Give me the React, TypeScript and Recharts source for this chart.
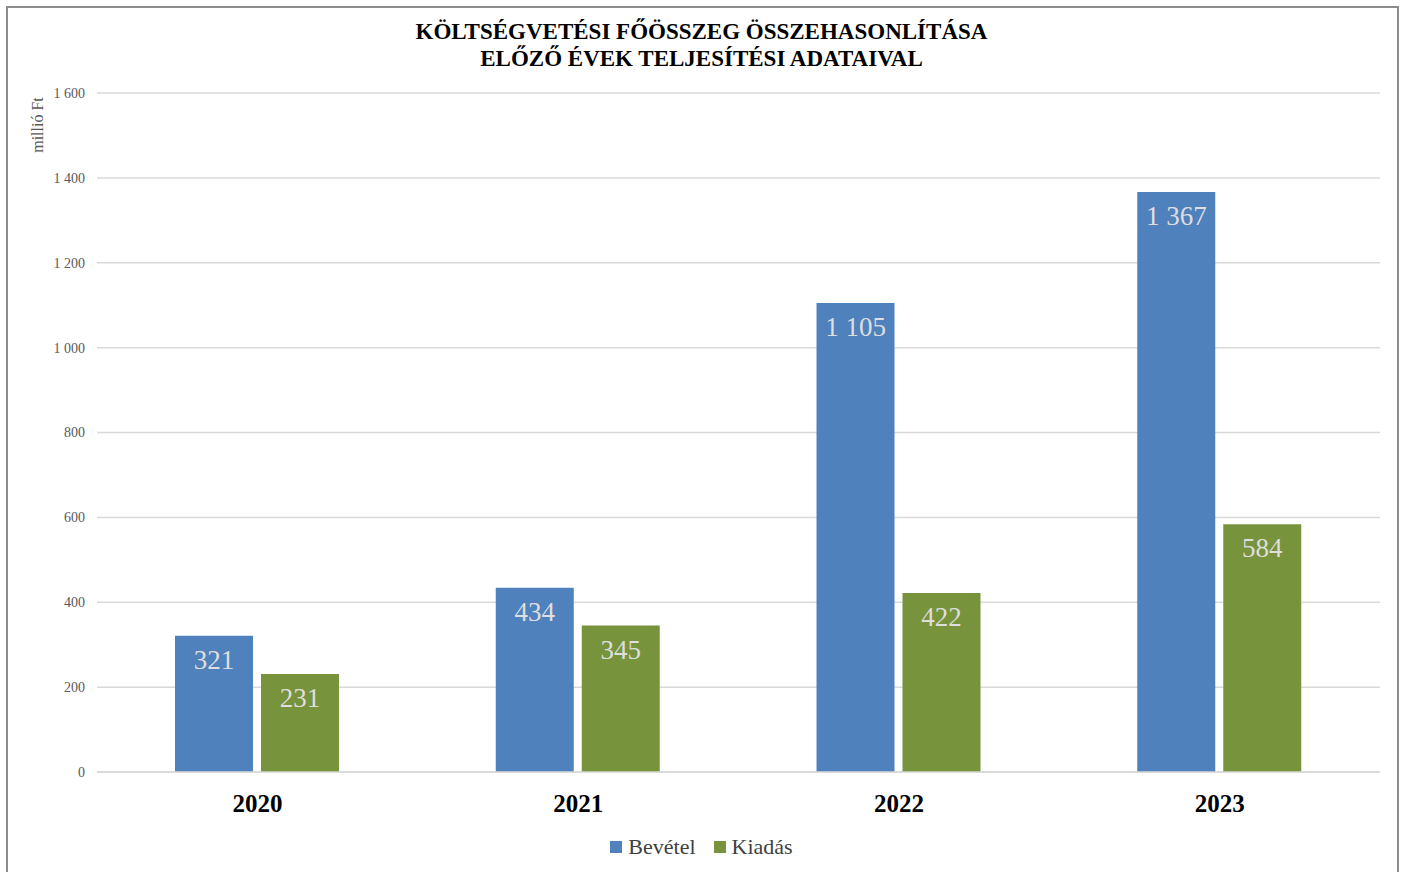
import { BarChart, Bar, XAxis, YAxis, CartesianGrid, LabelList } from 'recharts'

const years = ['2020', '2021', '2022', '2023']
const bevetel = [321, 434, 1105, 1367]
const kiadas = [231, 345, 422, 584]
const yTicks = [0, 200, 400, 600, 800, 1000, 1200, 1400, 1600]

const data = years.map((year, i) => ({ year, bevetel: bevetel[i], kiadas: kiadas[i] }))

const SERIF = '"Liberation Serif", "DejaVu Serif", serif'
const BLUE = '#4F81BD'
const GREEN = '#77933C'

// thousands with a space: 1367 -> "1 367"
const fmt = (v: number | string) => String(v).replace(/\B(?=(\d{3})+(?!\d))/g, ' ')

export default function App() {
    return (
        <div style={{ position: 'relative', width: 1403, height: 872, overflow: 'hidden', background: '#fff', fontFamily: SERIF }}>
            <style>{`body{margin:0;overflow:hidden}`}</style>
            <div
                style={{
                    position: 'absolute',
                    left: 6,
                    top: 6,
                    width: 1393,
                    height: 900,
                    border: '2px solid #8c8c8c',
                    boxSizing: 'border-box',
                }}
            />
            <div
                style={{
                    position: 'absolute',
                    top: 18,
                    left: 0,
                    width: 1403,
                    textAlign: 'center',
                    fontWeight: 'bold',
                    fontSize: 23,
                    lineHeight: '27px',
                    color: '#000',
                }}
            >
                KÖLTSÉGVETÉSI FŐÖSSZEG ÖSSZEHASONLÍTÁSA
                <br />
                ELŐZŐ ÉVEK TELJESÍTÉSI ADATAIVAL
            </div>
            <div
                style={{
                    position: 'absolute',
                    left: 38,
                    top: 125,
                    transform: 'translate(-50%, -50%) rotate(-90deg)',
                    fontSize: 16,
                    color: '#595959',
                    whiteSpace: 'nowrap',
                }}
            >
                millió Ft
            </div>
            <div style={{ position: 'absolute', top: 0, left: 0 }}>
                <BarChart
                    width={1403}
                    height={872}
                    data={data}
                    margin={{ top: 93, right: 23, bottom: 40, left: 0 }}
                    barGap={8}
                    barSize={78}
                >
                    <CartesianGrid vertical={false} stroke="#d9d9d9" strokeWidth={1.5} />
                    <XAxis
                        dataKey="year"
                        height={60}
                        axisLine={{ stroke: '#d9d9d9', strokeWidth: 1.5 }}
                        tickLine={false}
                        tickMargin={16}
                        tick={{ fill: '#000', fontSize: 25, fontWeight: 'bold', fontFamily: SERIF }}
                    />
                    <YAxis
                        width={97}
                        domain={[0, 1600]}
                        ticks={yTicks}
                        axisLine={false}
                        tickLine={false}
                        tickMargin={6}
                        tickFormatter={fmt}
                        tick={{ fill: '#595959', fontSize: 14, fontFamily: SERIF }}
                    />
                    <Bar dataKey="bevetel" fill={BLUE} isAnimationActive={false}>
                        <LabelList
                            dataKey="bevetel"
                            position="insideTop"
                            offset={14}
                            formatter={fmt}
                            style={{ fill: '#dedede', fontSize: 27, fontFamily: SERIF }}
                        />
                    </Bar>
                    <Bar dataKey="kiadas" fill={GREEN} isAnimationActive={false}>
                        <LabelList
                            dataKey="kiadas"
                            position="insideTop"
                            offset={14}
                            formatter={fmt}
                            style={{ fill: '#dedede', fontSize: 27, fontFamily: SERIF }}
                        />
                    </Bar>
                </BarChart>
            </div>
            <div
                style={{
                    position: 'absolute',
                    top: 835,
                    left: 0,
                    width: 1403,
                    display: 'flex',
                    justifyContent: 'center',
                    alignItems: 'center',
                    fontSize: 22,
                    color: '#404040',
                    lineHeight: '24px',
                }}
            >
                <span style={{ display: 'inline-block', width: 12, height: 12, background: BLUE, marginRight: 6 }} />
                <span style={{ marginRight: 18 }}>Bevétel</span>
                <span style={{ display: 'inline-block', width: 12, height: 12, background: GREEN, marginRight: 6 }} />
                <span>Kiadás</span>
            </div>
        </div>
    )
}
